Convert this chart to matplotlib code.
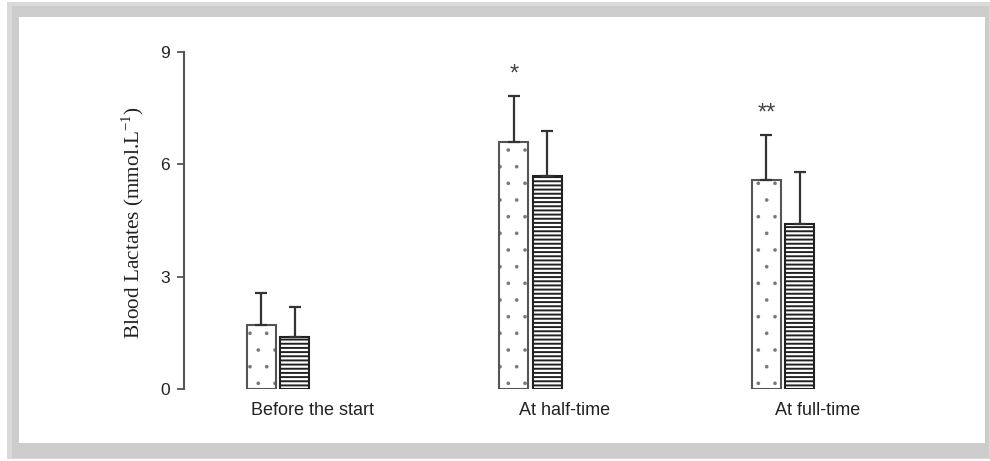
import matplotlib
matplotlib.use("Agg")
import matplotlib.pyplot as plt
from matplotlib.patches import Rectangle
import numpy as np

categories = ["Before the start", "At half-time", "At full-time"]
dotted_vals = [1.71, 6.60, 5.59]
dotted_err = [0.86, 1.23, 1.20]
striped_vals = [1.39, 5.70, 4.41]
striped_err = [0.80, 1.20, 1.39]
marks = ["", "*", "**"]
yticks = [0, 3, 6, 9]

W, H = 990, 461
fig = plt.figure(figsize=(W / 100, H / 100), dpi=100)

def px_rect(x0, y0, x1, y1, color):
    # rectangle in pixel coords (top-left origin)
    fig.add_artist(Rectangle((x0 / W, 1 - y1 / H), (x1 - x0) / W, (y1 - y0) / H,
                             transform=fig.transFigure, facecolor=color,
                             edgecolor="none", zorder=-10))

px_rect(7, 2, 990, 459, "#dadada")
px_rect(12, 6, 989, 458, "#cccccc")
px_rect(19, 17, 985, 443, "white")

ax = fig.add_axes([184 / W, (H - 389) / H, 716 / W, 337 / H])
ax.patch.set_alpha(0)

x = np.arange(len(categories))
bw = 0.115
off = 0.066
ekw = dict(ecolor="#333333", elinewidth=1.6, capsize=4, capthick=1.6)

# dotted bars: hatch layer in grey, outline on top
with plt.rc_context({"hatch.linewidth": 0.2}):
    ax.bar(x - off, dotted_vals, bw, facecolor="white", edgecolor="#777777",
           linewidth=0, hatch=".")
ax.bar(x - off, dotted_vals, bw, yerr=[np.zeros(3), dotted_err],
       facecolor="none", edgecolor="#555555", linewidth=1.5, error_kw=ekw)

with plt.rc_context({"hatch.linewidth": 1.4}):
    ax.bar(x + off, striped_vals, bw, yerr=[np.zeros(3), striped_err],
           facecolor="white", edgecolor="#222222", linewidth=1.5, hatch="----",
           error_kw=ekw)

for i, m in enumerate(marks):
    if m:
        top = dotted_vals[i] + dotted_err[i]
        ax.text(x[i] - off, top + 0.58, m, ha="center", va="center",
                fontsize=17, color="#444444", family="Liberation Sans")

ax.set_ylim(0, 9)
ax.set_xlim(-0.372, 2.463)
ax.set_yticks(yticks)
ax.set_yticklabels([str(t) for t in yticks], fontsize=12.5, family="Liberation Sans",
                   color="#222222")
ax.tick_params(axis="y", length=5, width=1.3, color="#555555", pad=5)
ax.set_xticks(x + 0.135)
ax.set_xticklabels(categories, fontsize=13, family="Liberation Sans", color="#222222")
ax.tick_params(axis="x", length=0, pad=9)
for s in ["top", "right", "bottom"]:
    ax.spines[s].set_visible(False)
ax.spines["left"].set_color("#555555")
ax.spines["left"].set_linewidth(1.5)

fig.text(133 / W, 1 - 222 / H, "Blood Lactates (mmol.L$^{\\mathregular{-1}}$)",
         rotation=90, ha="center", va="center", fontsize=15.3,
         family="Liberation Serif", color="#222222")

fig.savefig("out.png", dpi=100, facecolor="white")
